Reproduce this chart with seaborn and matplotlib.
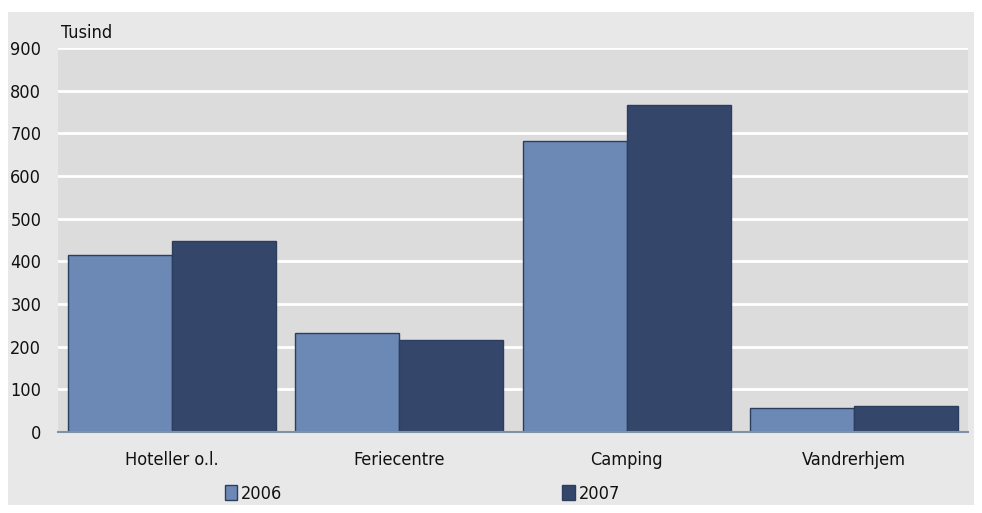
import matplotlib
matplotlib.use("Agg")
import matplotlib.pyplot as plt
import matplotlib.patches as mpatches
import pandas as pd
import seaborn as sns

categories = ["Hoteller o.l.", "Feriecentre", "Camping", "Vandrerhjem"]
years = ["2006", "2007"]
values_2006 = [415, 232, 682, 56]
values_2007 = [448, 216, 766, 61]
y_ticks = [0, 100, 200, 300, 400, 500, 600, 700, 800, 900]

df = pd.DataFrame({
    "kategori": categories * 2,
    "aar": [years[0]] * 4 + [years[1]] * 4,
    "tusind": values_2006 + values_2007,
})

sns.set_style("white")
plt.rcParams["font.family"] = ["DejaVu Sans"]
plt.rcParams["font.stretch"] = "condensed"
plt.rcParams["text.color"] = "#111111"

colors = {"2006": "#6c88b5", "2007": "#34476b"}

fig = plt.figure(figsize=(9.82, 5.13), dpi=100)
fig.patch.set_facecolor("white")
bg = mpatches.Rectangle((8 / 982, 1 - 505 / 513), 966 / 982, 493 / 513,
                        transform=fig.transFigure, facecolor="#e8e8e8",
                        edgecolor="none", zorder=-5)
fig.patches.append(bg)

ax = fig.add_axes([58 / 982, 1 - 432 / 513, 910 / 982, 384 / 513])
ax.set_zorder(1)
ax.set_facecolor("#dcdcdc")

sns.barplot(data=df, x="kategori", y="tusind", hue="aar", palette=colors,
            width=0.915, gap=0, edgecolor="#2c3e5e", linewidth=1.0,
            saturation=1, legend=False, ax=ax)

ax.set_ylim(0, 900)
ax.set_yticks(y_ticks)
ax.set_yticklabels([str(v) for v in y_ticks], fontsize=13, color="#111111")
ax.yaxis.grid(True, color="white", linewidth=2)
ax.set_axisbelow(True)
ax.set_xlim(-0.5, 3.5)
ax.tick_params(axis="x", labelsize=13, length=0, pad=14, labelcolor="#111111")
ax.tick_params(axis="y", length=0, pad=12)
ax.set_xlabel("")
ax.set_ylabel("")
for s in ["top", "right", "left"]:
    ax.spines[s].set_visible(False)
ax.spines["bottom"].set_color("#8090a8")
ax.spines["bottom"].set_linewidth(1.5)

ax.text(0.003, 1.015, "Tusind", transform=ax.transAxes, fontsize=13, va="bottom", ha="left")

handles = [mpatches.Patch(facecolor=colors[y], edgecolor="#2c3e5e", label=y) for y in years]
fig.legend(handles=handles, loc="center", bbox_to_anchor=(0.43, 1 - 494 / 513), ncol=2,
           frameon=False, fontsize=13, columnspacing=15.5, handlelength=0.7,
           handleheight=0.9, handletextpad=0.2)

fig.savefig("out.png", dpi=100)
